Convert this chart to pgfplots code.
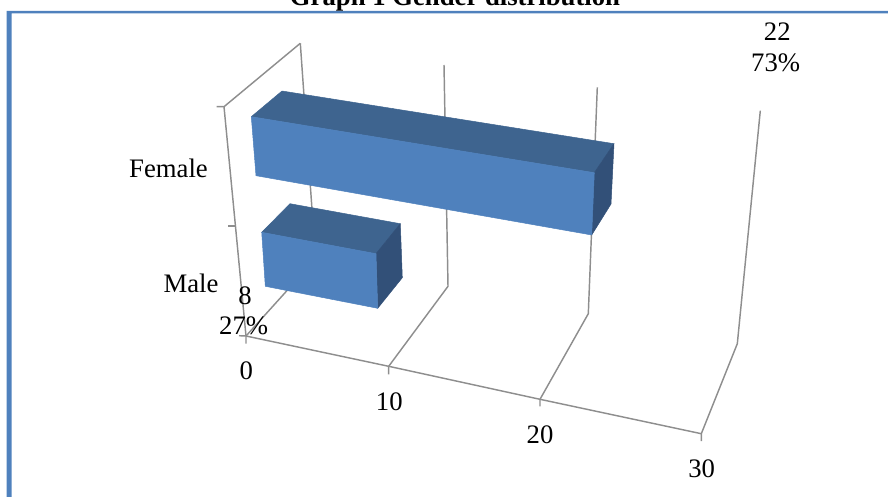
\documentclass[border=0pt]{standalone}
\usepackage{fontspec}
\setmainfont{Liberation Serif}
\usepackage{pgfplots}
\pgfplotsset{compat=1.18}
\definecolor{barfront}{HTML}{4F81BD}
\definecolor{bartop}{HTML}{3E648F}
\definecolor{barside}{HTML}{325078}
\definecolor{wire}{HTML}{8E8E8E}
\tikzset{
  wire/.style={draw=wire, line width=1.45pt, line join=round},
  face/.style={fill=#1, draw=#1, line width=0.5pt, line join=round},
  lab/.style={anchor=base, inner sep=0pt, font=\fontsize{26.7}{30}\selectfont},
}
\begin{document}
\begin{tikzpicture}
\clip (0,0) rectangle (888pt,497pt);
\begin{axis}[
  at={(0,0)}, anchor=south west,
  scale only axis, width=888pt, height=497pt,
  xmin=0, xmax=888, ymin=0, ymax=497, y dir=reverse,
  axis lines=none, clip=false,
]
% frame of the panel
\addplot[fill=barfront, draw=none] coordinates {(6.5,11) (888,11) (888,13.4) (11.7,13.4) (11.7,497) (6.5,497)} --cycle;

% side wall, floor and back wall of the value grid
\addplot[wire] coordinates {(216.7,106.7) (224,106.7) (300.3,43.3)};
\addplot[wire] coordinates {(224,106.7) (246,336)};
\addplot[wire] coordinates {(228.3,226) (236,226)};
\addplot[wire] coordinates {(239,335.7) (246,336)};
\addplot[wire] coordinates {(246,343.7) (246,336) (315.5,259) (300.3,43.3)};
\addplot[wire] coordinates {(388.7,374.3) (388.7,366.3) (448,286.3) (444,65)};
\addplot[wire] coordinates {(540,406.3) (540,399.3) (588.3,313.7) (597.3,87.3)};
\addplot[wire] coordinates {(701.3,441) (701.3,433.7) (737.3,343.7) (760.3,110.7)};
\addplot[wire] coordinates {(246,336) (388.7,366.3) (540,399.3) (701.3,433.7)};

% Female bar (22): top, end and front faces
\addplot[face=bartop] coordinates {(251.3,116.7) (282,91) (614,143.7) (594.3,172.7)} --cycle;
\addplot[face=barside] coordinates {(594.3,172.7) (614,143.7) (611,204) (591.7,235)} --cycle;
\addplot[face=barfront] coordinates {(251.3,116.7) (594.3,172.7) (591.7,235) (256,175.7)} --cycle;

% Male bar (8): top, end and front faces
\addplot[face=bartop] coordinates {(261.7,232.3) (290,203.7) (400.3,223.7) (376,253.7)} --cycle;
\addplot[face=barside] coordinates {(376,253.7) (400.3,223.7) (402.3,277.7) (377.7,308.3)} --cycle;
\addplot[face=barfront] coordinates {(261.7,232.3) (376,253.7) (377.7,308.3) (265.3,286.3)} --cycle;

% title, category names, value scale and data labels
\node[lab, font=\fontsize{26.7}{30}\selectfont\bfseries] at (axis cs:455,5.5) {Graph 1 Gender distribution};
\node[lab] at (axis cs:168.5,177.7) {Female};
\node[lab] at (axis cs:191,292) {Male};
\node[lab] at (axis cs:246.3,379.3) {0};
\node[lab] at (axis cs:389.3,410) {10};
\node[lab] at (axis cs:540,443.3) {20};
\node[lab] at (axis cs:701.7,477) {30};
\node[lab] at (axis cs:245,304.3) {8};
\node[lab] at (axis cs:243.7,334.3) {27\%};
\node[lab] at (axis cs:777.3,40.3) {22};
\node[lab] at (axis cs:775.7,71.3) {73\%};
\end{axis}
\end{tikzpicture}
\end{document}
